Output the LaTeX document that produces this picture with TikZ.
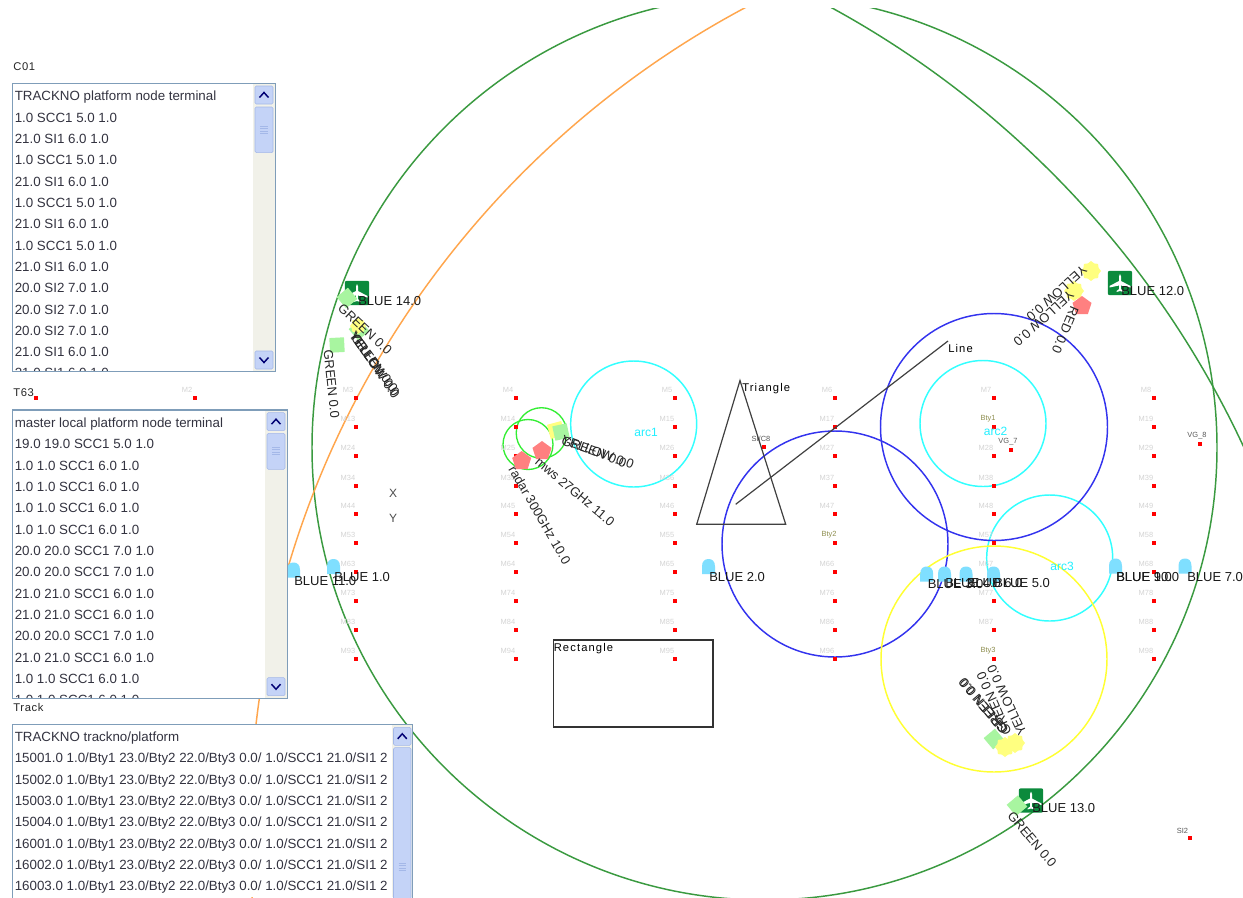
\documentclass[tikz,border=0pt]{standalone}
\usepackage{fontspec}
\setmainfont{Liberation Sans}
\usetikzlibrary{shapes.geometric}
\definecolor{gline}{HTML}{3A9A40}
\definecolor{oline}{HTML}{FFA64D}
\definecolor{cline}{HTML}{33FFFF}
\definecolor{bline}{HTML}{3333EE}
\definecolor{yline}{HTML}{FFFF33}
\definecolor{sline}{HTML}{33EE33}
\definecolor{gsym}{HTML}{A8F5A0}
\definecolor{ysym}{HTML}{FFFF80}
\definecolor{rsym}{HTML}{FF8080}
\definecolor{dome}{HTML}{7FDFFF}
\definecolor{tile}{HTML}{0B8A3C}
\definecolor{listtxt}{HTML}{333340}
\definecolor{listbd}{HTML}{7F9DB9}
\definecolor{trk}{HTML}{F1F1E9}
\definecolor{btn}{HTML}{C4D3F7}
\definecolor{btnbd}{HTML}{A4B8E8}
\definecolor{olive}{HTML}{8F8F50}
\definecolor{arctxt}{HTML}{22F0FF}
\tikzset{
  x=0.75pt,y=-0.75pt,
  reddot/.style={fill=red,draw=none,minimum size=3pt,inner sep=0pt,outer sep=0pt},
  gridlabel/.style={text=black!17,font=\fontsize{5.6}{6}\selectfont,inner sep=0pt},
  btylabel/.style={text=olive,font=\fontsize{5.6}{6}\selectfont,inner sep=0pt},
  siglabel/.style={text=black!65,font=\fontsize{5.6}{6}\selectfont,inner sep=0pt},
  biglabel/.style={text=black!90,font=\fontsize{9.75}{12}\selectfont,inner sep=0pt,anchor=base west},
  rotlabel/.style={text=black!85,font=\fontsize{9.75}{12}\selectfont,inner sep=0pt,anchor=west},
  shapelabel/.style={text=black,font=\fontsize{8.4}{10}\selectfont\addfontfeature{LetterSpace=10},inner sep=0pt,anchor=west},
  arclabel/.style={text=arctxt,font=\fontsize{9}{11}\selectfont,inner sep=0pt},
  listrow/.style={text=listtxt,font=\fontsize{10}{12}\selectfont,inner sep=0pt,anchor=base west},
  titlelabel/.style={text=black!85,font=\fontsize{8.4}{10}\selectfont\addfontfeature{LetterSpace=6},inner sep=0pt,anchor=west},
  gsquare/.style={fill=gsym,draw=none,minimum size=11pt,inner sep=0pt},
  yblob/.style={fill=ysym,draw=none,star,star points=8,star point ratio=1.22,minimum size=15pt,inner sep=0pt},
  rblob/.style={fill=rsym,draw=none,regular polygon,regular polygon sides=5,minimum size=15pt,inner sep=0pt},
  domesym/.pic={\fill[dome] (-6.5,7.5) -- (-6.5,0) .. controls (-6.5,-5.5) and (-3.5,-7.5) .. (0,-7.5) .. controls (3.5,-7.5) and (6.5,-5.5) .. (6.5,0) -- (6.5,7.5) -- cycle;},
  planetile/.pic={\fill[tile,rounded corners=1.5pt] (-12.2,-12.2) rectangle (12.2,12.2);
    \fill[white] (0,-9) -- (1,-6.5) -- (1,-2) -- (10.5,3) -- (10.5,4.5) -- (1,2.5) -- (0.8,6) -- (3.5,8) -- (3.5,9) -- (0,8) -- (-3.5,9) -- (-3.5,8) -- (-0.8,6) -- (-1,2.5) -- (-10.5,4.5) -- (-10.5,3) -- (-1,-2) -- (-1,-6.5) -- cycle;},
}
\newcommand{\sbup}[3]{% x1 x2 y1
  \fill[btn,draw=btnbd,rounded corners=1pt] (#1,#3) rectangle (#2,#3+18);
  \draw[black!10!blue!50!black,line width=1.1pt] ({(#1+#2)/2-4.5},#3+11.5) -- ({(#1+#2)/2},#3+6.5) -- ({(#1+#2)/2+4.5},#3+11.5);}
\newcommand{\sbdown}[3]{%
  \fill[btn,draw=btnbd,rounded corners=1pt] (#1,#3) rectangle (#2,#3+18);
  \draw[black!10!blue!50!black,line width=1.1pt] ({(#1+#2)/2-4.5},#3+6.5) -- ({(#1+#2)/2},#3+11.5) -- ({(#1+#2)/2+4.5},#3+6.5);}
\newcommand{\sbthumb}[4]{% x1 x2 y1 y2
  \fill[btn,draw=btnbd,rounded corners=1pt] (#1,#3) rectangle (#2,#4);}
\newcommand{\sbgrip}[3]{% x1 x2 ymid
  \draw[btnbd,line width=0.5pt] (#1+5,#3-4) -- (#2-5,#3-4) (#1+5,#3-1.5) -- (#2-5,#3-1.5) (#1+5,#3+1) -- (#2-5,#3+1) (#1+5,#3+3.5) -- (#2-5,#3+3.5);}
\begin{document}
\begin{tikzpicture}
\useasboundingbox (0,0) rectangle (1243,897);
\fill[white] (0,0) rectangle (1243,897);

% large arcs, cut at the top of the canvas
\begin{scope}
\clip (0,8) rectangle (1243,897);
\draw[gline,line width=1.1pt] (764.5,447.5) circle[radius=452.5];
\draw[gline,line width=1.1pt] (371.5,852.2) circle[radius=961.5];
\draw[oline,line width=1.1pt] (1184,832.6) circle[radius=934.2];
\end{scope}

% range circles
\draw[cline,line width=1.1pt] (633.7,424) circle[radius=63];
\draw[cline,line width=1.1pt] (983,423.5) circle[radius=63];
\draw[cline,line width=1.1pt] (1049.7,558) circle[radius=63];
\draw[bline,line width=1.1pt] (994,427) circle[radius=113.5];
\draw[bline,line width=1.1pt] (835,544) circle[radius=113];
\draw[yline,line width=1.1pt] (994,659) circle[radius=113];
\draw[sline,line width=1pt] (528,444.5) circle[radius=25];
\draw[sline,line width=1pt] (541.5,433) circle[radius=25.3];

% grid of sites
\foreach \col/\px/\names in {
 a/356/{M3,M13,M24,M34,M44,M53,M63,M73,M83,M93},
 b/516/{M4,M14,M25,M35,M45,M54,M64,M74,M84,M94},
 c/675/{M5,M15,M26,M36,M46,M55,M65,M75,M85,M95},
 d/835/{M6,M17,M27,M37,M47,,M66,M76,M86,M96},
 e/994/{M7,,M28,M38,M48,M57,M67,M77,M87,},
 f/1154/{M8,M19,M29,M39,M49,M58,M68,M78,M88,M98}}{
  \foreach \nm [count=\i from 0] in \names {
    \pgfmathsetmacro{\py}{398+29.0*\i-(\i>3?0.3:0)+(\i>2?0.7:0)}
    \node[reddot] (dot\col\i) at (\px,\py) {};
    \node[gridlabel] (lab\col\i) at (\px-8,\py-8) {\nm};
  }
}
\node[reddot] (dotm1) at (36,398) {};
\node[reddot] (dotm2) at (195,398) {};
\node[gridlabel] (labm2) at (187,390) {M2};
\node[btylabel] (labbty2) at (829,535) {Bty2};
\node[btylabel] (labbty1) at (988,419) {Bty1};
\node[btylabel] (labbty3) at (988,651) {Bty3};
\node[reddot] (dotsc8) at (764,447) {};
\node[siglabel] (labsc8) at (761,438.5) {SI/C8};
\node[reddot] (dotvg7) at (1011,450) {};
\node[siglabel] (labvg7) at (1008,442) {VG\_7};
\node[reddot] (dotvg8) at (1200,444) {};
\node[siglabel] (labvg8) at (1197,436) {VG\_8};
\node[reddot] (dotsi2) at (1190,838) {};
\node[siglabel] (labsi2) at (1182.5,830.5) {SI2};

% drawn shapes
\draw[black!75,line width=0.9pt] (740,380.5) -- (696.7,524.3) -- (785.7,524.3) -- cycle;
\node[shapelabel] (ltri) at (742,388.5) {Triangle};
\draw[black!75,line width=0.9pt] (735.7,504.3) -- (948,341);
\node[shapelabel] (lline) at (948,348.5) {Line};
\draw[black!80,line width=0.9pt] (553.5,640) rectangle (713,727);
\node[shapelabel] (lrect) at (553.5,648.5) {Rectangle};
\node[text=black!70,font=\fontsize{9}{11}\selectfont,inner sep=0pt] (lx) at (393,493) {X};
\node[text=black!70,font=\fontsize{9}{11}\selectfont,inner sep=0pt] (ly) at (393,518.5) {Y};
\node[arclabel] (arc1) at (646,432) {arc1};
\node[arclabel] (arc2) at (995.5,431) {arc2};
\node[arclabel] (arc3) at (1062,566.5) {arc3};

% sensors
\pic at (293.5,570) {domesym};
\pic at (333.5,566.5) {domesym};
\pic at (708.5,566.5) {domesym};
\pic at (926.7,574) {domesym};
\pic at (944.5,574) {domesym};
\pic at (966,574) {domesym};
\pic at (993.5,574) {domesym};
\pic at (1115.5,566) {domesym};
\pic at (1185,566) {domesym};
\node[biglabel] (b11) at (294,585.5) {BLUE 11.0};
\node[biglabel] (b1) at (334,581.5) {BLUE 1.0};
\node[biglabel] (b2) at (709,581.5) {BLUE 2.0};
\node[biglabel] (b3) at (927.5,588.5) {BLUE 3.0};
\node[biglabel] (b4) at (945,587.5) {BLUE 4.0};
\node[biglabel] (b6) at (966.5,587.5) {BLUE 6.0};
\node[biglabel] (b5) at (994,587.5) {BLUE 5.0};
\node[biglabel] (b9) at (1116,581) {BLUE 9.0};
\node[biglabel] (b10) at (1116,581) {BLUE 10.0};
\node[biglabel] (b7) at (1187,581) {BLUE 7.0};

% aircraft tiles
\pic at (357,293) {planetile};
\pic at (1120,283) {planetile};
\pic at (1031,800.5) {planetile};

% platforms, NW
\node[gsquare,rotate=40] (g1) at (347,298) {};
\node[gsquare,rotate=3] (g2) at (337,345) {};
\node[gsquare,rotate=40] (g3) at (359,330) {};
\node[yblob,minimum size=12pt] (y1) at (358,326) {};
\node[biglabel] (t14) at (358,305.5) {BLUE 14.0};
\node[rotlabel,rotate=-43] (tg1) at (340,306) {GREEN 0.0};
\node[rotlabel,rotate=-84] (tg2) at (328,350) {GREEN 0.0};
\node[rotlabel,rotate=-54] (tg4) at (352,333) {YELLOW 0.0};
\node[rotlabel,rotate=-55] (tg5) at (353,334) {YELLOW 0.0};
\node[rotlabel,rotate=-53] (tg6) at (354,336) {GREEN 0.0};

% platforms, centre
\node[gsquare,fill=ysym,rotate=15] (y2) at (556,430) {};
\node[gsquare,rotate=12] (g4) at (561,432) {};
\node[rblob] (r1) at (521.7,461) {};
\node[rblob] (r2) at (542,451) {};
\node[rotlabel,rotate=-60] (tr1) at (512,467) {radar 300GHz 10.0};
\node[rotlabel,rotate=-40] (tr2) at (537,460) {mws 27GHz 11.0};
\node[rotlabel,rotate=-20] (tc1) at (562,440) {GREEN 0.0};
\node[rotlabel,rotate=-20] (tc2) at (562,439) {YELLOW 0.0};

% platforms, NE
\node[yblob] (y3) at (1091,271) {};
\node[yblob] (y4) at (1074,291) {};
\node[rblob] (r3) at (1082,306) {};
\node[biglabel] (t12) at (1121,295.5) {BLUE 12.0};
\node[rotlabel,rotate=222] (ty3) at (1085,268) {YELLOW 0.0};
\node[rotlabel,rotate=222] (ty4) at (1072,293) {YELLOW 0.0};
\node[rotlabel,rotate=247] (tr3) at (1075,307) {RED 0.0};

% platforms, SE
\node[gsquare,rotate=40] (g5) at (994,739) {};
\node[yblob] (y5) at (1005,747) {};
\node[yblob] (y6) at (1015,743) {};
\node[rotlabel,rotate=115] (ty5) at (1023,735) {YELLOW 0.0};
\node[rotlabel,rotate=114] (tg7) at (1008,735) {GREEN 0.0};
\node[rotlabel,rotate=130] (tg8) at (1005,732) {GREEN 0.0};
\node[rotlabel,rotate=130] (ty7) at (1006,733) {GREEN 0.0};

% platforms, S
\node[gsquare,rotate=40] (g6) at (1017,805.7) {};
\node[biglabel] (t13) at (1032,812.5) {BLUE 13.0};
\node[rotlabel,rotate=-50] (tg9) at (1010,813) {GREEN 0.0};

% list C01
\node[titlelabel] (tc01) at (13,66.5) {C01};
\fill[white] (12.3,83.3) rectangle (275.3,371.7);
\begin{scope}
\clip (13,84) rectangle (253,371);
\foreach \t [count=\i from 0] in {TRACKNO platform node terminal,1.0 SCC1 5.0 1.0,21.0 SI1 6.0 1.0,1.0 SCC1 5.0 1.0,21.0 SI1 6.0 1.0,1.0 SCC1 5.0 1.0,21.0 SI1 6.0 1.0,1.0 SCC1 5.0 1.0,21.0 SI1 6.0 1.0,20.0 SI2 7.0 1.0,20.0 SI2 7.0 1.0,20.0 SI2 7.0 1.0,21.0 SI1 6.0 1.0,21.0 SI1 6.0 1.0}
  \node[listrow] (ca\i) at (14.5,{96+21.33*\i+4.7}) {\t};
\end{scope}
\fill[trk] (253.3,84) rectangle (274.6,371);
\sbup{255}{273}{86}
\sbthumb{255}{273}{107}{152.7}
\sbgrip{255}{273}{130}
\sbdown{255}{273}{351}
\draw[listbd,line width=0.9pt] (12.3,83.3) rectangle (275.3,371.7);

% list T63
\node[titlelabel] (tt63) at (13,393) {T63};
\fill[white] (12.3,410) rectangle (287.3,698.3);
\begin{scope}
\clip (13,411) rectangle (265,697.6);
\foreach \t [count=\i from 0] in {master local platform node terminal,19.0 19.0 SCC1 5.0 1.0,1.0 1.0 SCC1 6.0 1.0,1.0 1.0 SCC1 6.0 1.0,1.0 1.0 SCC1 6.0 1.0,1.0 1.0 SCC1 6.0 1.0,20.0 20.0 SCC1 7.0 1.0,20.0 20.0 SCC1 7.0 1.0,21.0 21.0 SCC1 6.0 1.0,21.0 21.0 SCC1 6.0 1.0,20.0 20.0 SCC1 7.0 1.0,21.0 21.0 SCC1 6.0 1.0,1.0 1.0 SCC1 6.0 1.0,1.0 1.0 SCC1 6.0 1.0}
  \node[listrow] (ta\i) at (14.5,{422.7+21.33*\i+4.7}) {\t};
\end{scope}
\fill[trk] (265.3,411) rectangle (286.6,697.6);
\sbup{267}{285}{412.7}
\sbthumb{267}{285}{433.3}{469.3}
\sbgrip{267}{285}{451}
\sbdown{267}{285}{677.7}
\draw[listbd,line width=0.9pt] (12.3,410) rectangle (287.3,698.3);

% list Track
\node[titlelabel] (ttrk) at (13,707) {Track};
\fill[white] (12.3,724.3) rectangle (412.7,897);
\begin{scope}
\clip (13,725) rectangle (391.4,897);
\node[listrow] (tr0) at (14.5,{736.7+4.7}) {TRACKNO trackno/platform};
\foreach \t [count=\i from 1] in {15001.0,15002.0,15003.0,15004.0,16001.0,16002.0,16003.0}
  \node[listrow] (tr\i) at (14.5,{736.7+21.33*\i+4.7}) {\t{} 1.0/Bty1 23.0/Bty2 22.0/Bty3 0.0/ 1.0/SCC1 21.0/SI1 2};
\end{scope}
\fill[trk] (391.7,725) rectangle (412,897);
\sbup{393.5}{411}{727.3}
\sbthumb{393.5}{411}{747.7}{905}
\sbgrip{393.5}{411}{867}
\draw[listbd,line width=0.9pt] (12.3,905) -- (12.3,724.3) -- (412.7,724.3) -- (412.7,905);
\end{tikzpicture}
\end{document}
